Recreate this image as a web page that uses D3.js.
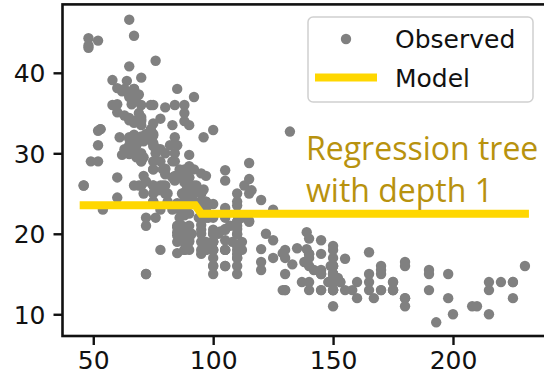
<!DOCTYPE html>
<html>
<head>
<meta charset="utf-8">
<script src="https://cdn.jsdelivr.net/npm/d3@7"></script>
<style>
  body { margin: 0; background: #fff; }
  svg { display: block; }
  .tick text { font-family: "DejaVu Sans", sans-serif; font-size: 25px; fill: #111; }
  .tick line { stroke: #111; stroke-width: 2.4; }
</style>
</head>
<body>
<div id="chart"></div>
<script>
// horsepower / mpg pairs (auto-mpg cars)
const horsepower = [130,165,150,150,140,198,220,215,225,190,170,160,150,225,95,95,97,85,88,46,87,90,95,113,90,215,200,210,193,88,90,95,100,105,100,88,100,165,175,153,150,180,170,175,110,72,100,88,86,90,70,76,65,69,60,70,95,80,54,90,86,165,175,150,153,150,208,155,160,190,97,150,130,140,150,112,76,87,69,86,92,97,80,88,175,150,145,137,150,198,150,158,150,215,225,175,105,100,100,88,95,46,150,167,170,180,100,88,72,94,90,85,107,90,145,230,49,75,91,112,150,110,122,180,95,100,100,67,80,65,75,100,110,105,140,150,150,140,150,83,67,78,52,61,75,75,75,97,93,67,95,105,72,72,170,145,150,148,110,105,110,95,110,110,129,75,83,100,78,96,71,97,97,70,90,95,88,98,115,53,86,81,92,79,83,140,150,120,152,100,105,81,90,52,60,70,53,100,78,110,95,71,70,75,72,102,150,88,108,120,180,145,130,150,68,80,58,96,70,145,110,145,130,110,105,100,98,180,170,190,149,78,88,75,89,63,83,67,78,97,110,110,48,66,52,70,60,110,140,139,105,95,85,88,100,90,105,85,110,120,145,165,139,140,68,95,97,75,95,105,85,97,103,125,115,133,71,68,115,85,88,90,110,130,129,138,135,155,142,125,150,71,65,80,80,77,125,71,90,70,70,65,69,90,115,115,90,76,60,70,65,90,88,90,90,78,90,75,92,75,65,105,65,48,48,67,67,67,67,62,132,100,88,72,84,84,92,110,84,58,64,60,67,65,62,68,63,65,65,74,75,75,100,74,80,76,116,120,110,105,88,85,88,88,88,85,84,90,92,74,68,68,63,70,88,75,70,67,67,67,110,85,92,112,96,84,90,86,52,84,79,82];
const mpg = [18,15,18,16,17,15,14,14,14,15,15,14,15,14,24,22,18,21,27,26,25,24,25,26,21,10,10,11,9,27,28,25,19,16,17,19,18,14,14,14,14,12,13,13,18,22,19,18,23,28,30,30,31,35,27,26,24,25,23,20,21,13,14,15,14,17,11,13,12,13,19,15,13,13,14,18,22,21,26,22,28,23,28,27,13,14,13,14,15,12,13,13,14,13,12,13,18,16,18,18,23,26,11,12,13,12,18,20,21,22,18,19,21,26,15,16,29,24,20,19,15,24,20,11,20,19,15,31,26,32,25,16,16,18,16,13,14,14,14,29,26,26,31,32,28,24,26,24,26,31,19,18,15,15,16,15,16,14,17,16,15,18,21,20,13,29,23,20,23,24,25,24,18,29,19,23,23,22,25,33,28,25,25,26,27,17.5,16,15.5,14.5,22,22,24,22.5,29,24.5,29,33,20,18,18.5,17.5,29.5,32,28,26.5,20,13,19,19,16.5,16.5,13,13,13,31.5,30,36,25.5,33.5,17.5,17,15.5,15,17.5,20.5,19,18.5,16,15.5,15.5,16,29,24.5,26,25.5,30.5,33.5,30,30.5,22,21.5,21.5,43.1,36.1,32.8,39.4,36.1,19.9,19.4,20.2,19.2,20.5,20.2,25.1,20.5,19.4,20.6,20.8,18.6,18.1,19.2,17.7,18.1,17.5,30,27.5,27.2,30.9,21.1,23.2,23.8,23.9,20.3,17,21.6,16.2,31.5,29.5,21.5,19.8,22.3,20.2,20.6,17,17.6,16.5,18.2,16.9,15.5,19.2,18.5,31.9,34.1,35.7,27.4,25.4,23,27.2,23.9,34.2,34.5,31.8,37.3,28.4,28.8,26.8,33.5,41.5,38.1,32.1,37.2,28,26.4,24.3,19.1,34.3,29.8,31.3,37,32.2,46.6,27.9,40.8,44.3,43.4,36.4,30,44.6,33.8,29.8,32.7,23.7,35,32.4,27.2,26.6,25.8,23.5,30,39.1,39,35.1,32.3,37,37.7,34.1,34.7,34.4,29.9,33,33.7,32.4,32.9,31.6,28.1,30.7,25.4,24.2,22.4,26.6,20.2,17.6,28,27,34,31,29,27,24,36,37,31,38,36,36,36,34,38,32,38,25,38,26,22,32,36,27,27,44,32,28,31];

// depth-1 tree prediction (one split near 93.5 hp)
const modelX = [46, 92.5, 95, 230];
const modelY = [23.55, 23.55, 22.5, 22.5];

const xTicks = [50, 100, 150, 200];
const yTicks = [10, 20, 30, 40];

const W = 544, H = 381;
const padL = 62.5, padR = 547, padT = 4.4, padB = 336;

const svg = d3.select("#chart").append("svg")
  .attr("width", W)
  .attr("height", H);

const x = d3.scaleLinear().domain([37.17, 239.2]).range([padL, padR]);
const y = d3.scaleLinear().domain([7.3, 48.5]).range([padB, padT]);

// AXES
const xAxis = d3.axisBottom(x).tickValues(xTicks).tickSize(9).tickSizeOuter(0).tickPadding(6);
const yAxis = d3.axisLeft(y).tickValues(yTicks).tickSize(9).tickSizeOuter(0).tickPadding(8);

const gx = svg.append("g").attr("transform", `translate(0,${padB})`).call(xAxis);
const gy = svg.append("g").attr("transform", `translate(${padL},0)`).call(yAxis);
gx.select(".domain").remove();
gy.select(".domain").remove();
gy.selectAll(".tick text").attr("dy", "0.36em");

// the frame
svg.append("rect")
  .attr("x", padL).attr("y", padT)
  .attr("width", padR - padL).attr("height", padB - padT)
  .attr("fill", "none")
  .attr("stroke", "#111")
  .attr("stroke-width", 2.6);

// OBSERVED POINTS
const pts = horsepower.map((h, i) => [h, mpg[i]]);
svg.append("g")
  .selectAll("circle")
  .data(pts)
  .enter()
  .append("circle")
  .attr("cx", d => x(d[0]))
  .attr("cy", d => y(d[1]))
  .attr("r", 5.2)
  .attr("fill", "#808080");

// MODEL
const line = d3.line().x(d => x(d[0])).y(d => y(d[1]));
svg.append("path")
  .datum(modelX.map((v, i) => [v, modelY[i]]))
  .attr("d", line)
  .attr("fill", "none")
  .attr("stroke", "#FFD700")
  .attr("stroke-width", 8)
  .attr("stroke-linecap", "square");

// ANNOTATION
const note = svg.append("text")
  .attr("font-family", "'Open Sans', Lato, sans-serif")
  .attr("font-size", 32)
  .attr("fill", "#B8920E");
note.append("tspan").attr("x", 306).attr("y", 160).text("Regression tree");
note.append("tspan").attr("x", 306).attr("y", 202).text("with depth 1");

// LEGEND
const lg = svg.append("g");
lg.append("rect")
  .attr("x", 308).attr("y", 17)
  .attr("width", 225).attr("height", 85)
  .attr("rx", 5)
  .attr("fill", "#fff")
  .attr("fill-opacity", 0.8)
  .attr("stroke", "#d0d0d0")
  .attr("stroke-width", 1.5);
lg.append("circle")
  .attr("cx", 346).attr("cy", 39)
  .attr("r", 5.2)
  .attr("fill", "#808080");
lg.append("line")
  .attr("x1", 315).attr("x2", 377)
  .attr("y1", 77.5).attr("y2", 77.5)
  .attr("stroke", "#FFD700")
  .attr("stroke-width", 8);
lg.selectAll("text.lab")
  .data(["Observed", "Model"])
  .enter()
  .append("text")
  .attr("class", "lab")
  .attr("x", 395)
  .attr("y", (d, i) => 48 + i * 38.5)
  .attr("font-family", "DejaVu Sans, sans-serif")
  .attr("font-size", 25)
  .attr("fill", "#111")
  .text(d => d);
</script>
</body>
</html>
